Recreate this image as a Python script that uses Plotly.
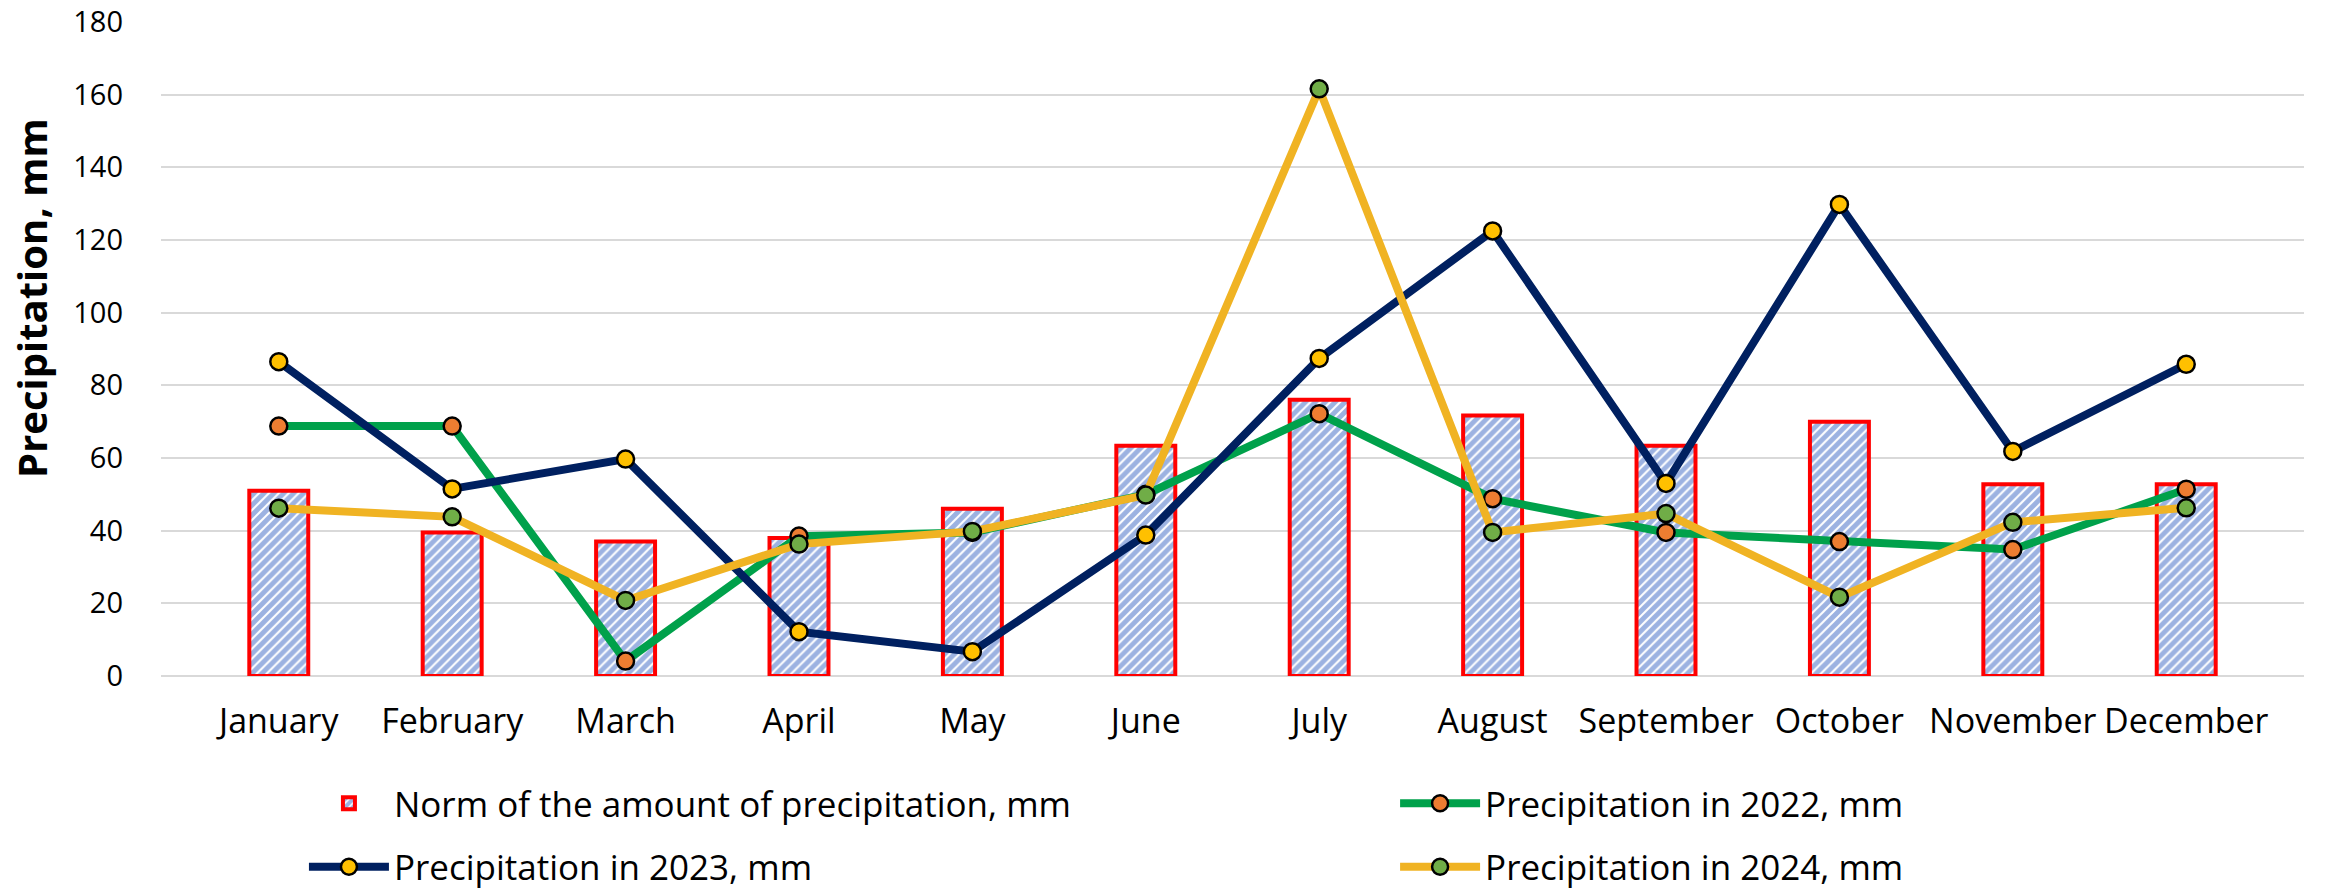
import plotly.graph_objects as go

months = ["January", "February", "March", "April", "May", "June", "July",
          "August", "September", "October", "November", "December"]
norm = [51, 39.5, 37, 38, 46, 63.4, 76, 71.7, 63.4, 70, 52.8, 52.8]
p2022 = [68.8, 68.8, 4.1, 38.5, 39.5, 50, 72.2, 48.8, 39.5, 37, 34.8, 51.4]
p2023 = [86.5, 51.5, 59.7, 12.2, 6.7, 38.8, 87.4, 122.5, 53, 129.8, 61.8, 85.8]
p2024 = [46.2, 43.8, 20.8, 36.3, 39.8, 49.8, 161.6, 39.5, 44.7, 21.7, 42.3, 46.3]
yticks = [0, 20, 40, 60, 80, 100, 120, 140, 160, 180]

FONT = "Open Sans"
fig = go.Figure()
fig.add_trace(go.Bar(
    x=months, y=norm, name="Norm of the amount of precipitation, mm",
    width=0.34, legend="legend", legendgroup="a",
    marker=dict(color="white", line=dict(color="#FF0000", width=4),
                pattern=dict(shape="/", fgcolor="#3A66C4", bgcolor="white",
                             size=7, solidity=0.72)),
))

def line(y, name, lc, mc, leg, grp):
    fig.add_trace(go.Scatter(
        x=months, y=y, name=name, mode="lines+markers",
        legend=leg, legendgroup=grp,
        line=dict(color=lc, width=8),
        marker=dict(color=mc, size=17, line=dict(color="black", width=2.5)),
    ))

line(p2022, "Precipitation in 2022, mm", "#00A14B", "#ED7D31", "legend2", "c")
line(p2023, "Precipitation in 2023, mm", "#002060", "#FFC000", "legend", "b")
line(p2024, "Precipitation in 2024, mm", "#F0B323", "#70AD47", "legend2", "d")

leg_common = dict(orientation="v", xref="container", yref="container",
                  xanchor="left", yanchor="top", y=0.1294,
                  itemwidth=80, tracegroupgap=15, traceorder="grouped",
                  bgcolor="rgba(0,0,0,0)", font=dict(size=35, family=FONT))

fig.update_layout(
    width=2338, height=889,
    margin=dict(l=161, r=34, t=22, b=213, autoexpand=False),
    paper_bgcolor="white", plot_bgcolor="white",
    font=dict(family=FONT, size=30, color="black"),
    showlegend=True,
    legend=dict(x=0.130, **leg_common),
    legend2=dict(x=0.5967, **leg_common),
    bargap=0.66,
)
fig.update_xaxes(showgrid=False, showline=False, ticks="", tickfont=dict(size=34),
                 ticklabelstandoff=22, automargin=False)
fig.update_yaxes(range=[0, 180], tickvals=yticks, showgrid=True, gridcolor="#D9D9D9",
                 gridwidth=2, zeroline=True, zerolinecolor="#D9D9D9", zerolinewidth=2,
                 showline=False, ticks="", tickfont=dict(size=29), ticklabelstandoff=37,
                 automargin=False)
fig.add_annotation(text="<b>Precipitation, mm</b>", textangle=-90, xref="paper", yref="paper",
                   x=-0.0602, y=0.578, xanchor="center", yanchor="middle",
                   showarrow=False, font=dict(size=40, family=FONT))
fig.write_html("out.html", config={"displayModeBar": False},
               post_script="document.body.style.margin='0';")
